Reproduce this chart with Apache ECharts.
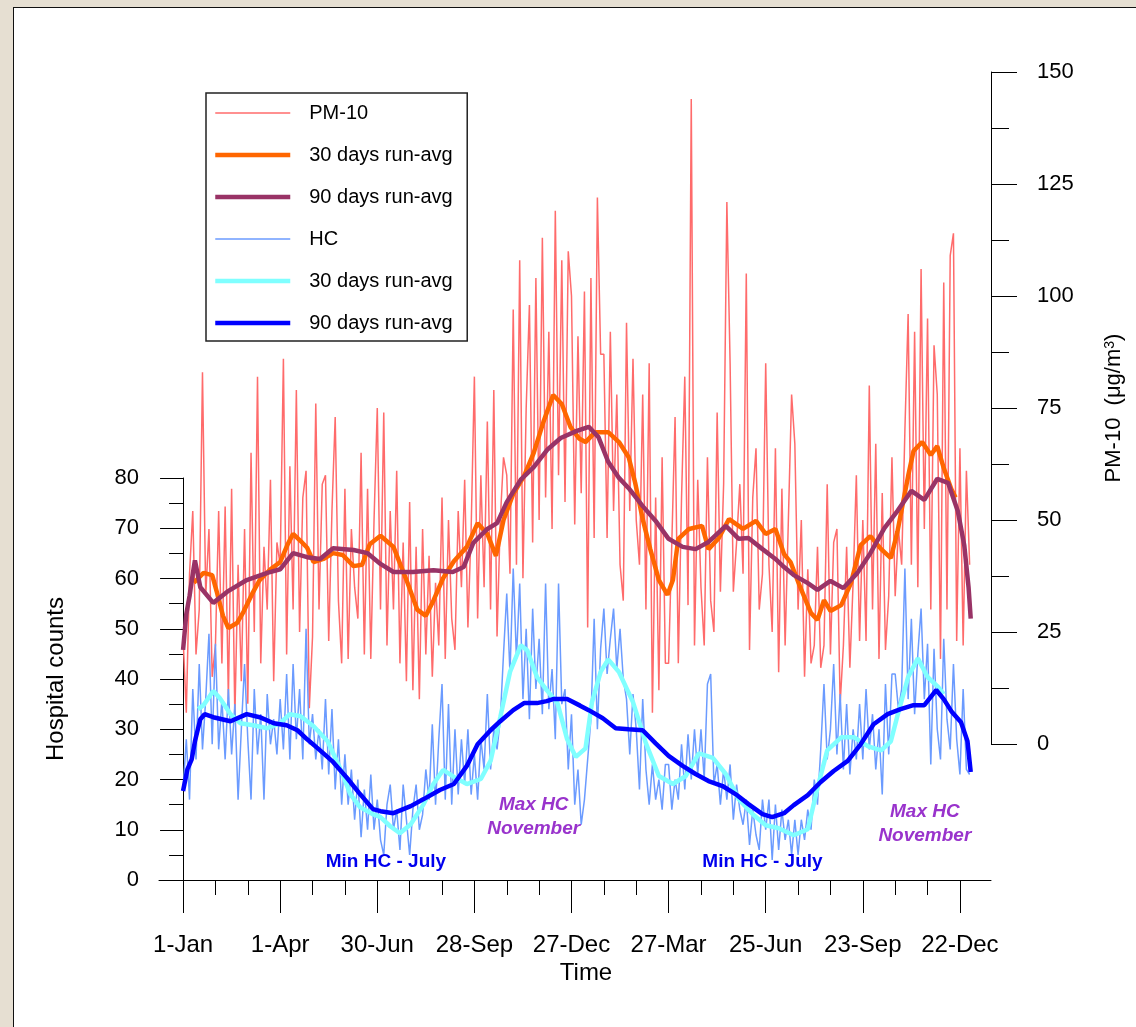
<!DOCTYPE html>
<html>
<head>
<meta charset="utf-8">
<title>PM-10 and hospital counts</title>
<script src="https://cdn.jsdelivr.net/npm/echarts@6/dist/echarts.min.js"></script>
<style>
    html, body { margin: 0; padding: 0; background: #e6dfd2; }
    #panel { position: absolute; left: 13px; top: 7px; right: 0; bottom: 0; background: #fff;
             border-left: 1px solid #111; border-top: 1px solid #111; }
    #chart { position: absolute; left: 0; top: 0; width: 1136px; height: 1027px; }
</style>
</head>
<body>
<div id="panel"></div>
<div id="chart"></div>
<script>
// day 0 = 1-Jan of the first year, raw series read every STEP days
var STEP = 3;
var tickDays = [0, 90, 180, 270, 360, 450, 540, 630, 720];
var tickLabels = ['1-Jan', '1-Apr', '30-Jun', '28-Sep', '27-Dec', '27-Mar', '25-Jun', '23-Sep', '22-Dec'];
var minorDays = [30, 60, 120, 150, 210, 240, 300, 330, 390, 420, 480, 510, 570, 600, 660, 690];

// PM-10 daily (ug/m3), one row = 30 days
var pmRaw = [
    24, 7, 38, 52, 20, 30, 83, 33, 48, 15,
    22, 52, 18, 53, 10, 57, 6, 40, 14, 48,
    9, 65, 25, 82, 18, 44, 30, 59, 14, 45,
    40, 86, 20, 62, 30, 79, 25, 55, 61, 8,
    24, 76, 30, 58, 60, 23, 52, 73, 32, 18,
    57, 19, 48, 35, 28, 65, 20, 57, 19, 50,
    75, 30, 74, 22, 52, 30, 61, 18, 45, 14,
    54, 12, 44, 10, 48, 20, 42, 15, 36, 22,
    55, 19, 50, 28, 21, 52, 35, 59, 26, 48,
    82, 28, 60, 35, 72, 30, 79, 24, 50, 64,
    60, 38, 97, 40, 108, 37, 75, 98, 45, 104,
    50, 113, 55, 92, 48, 119, 60, 108, 54, 110,
    100, 49, 91, 56, 101, 26, 104, 46, 122, 87,
    87, 46, 92, 52, 78, 40, 32, 94, 52, 86,
    50, 40, 78, 30, 85, 7, 55, 12, 64, 18,
    18, 45, 73, 18, 55, 82, 31, 144, 22, 59,
    35, 22, 64, 32, 25, 74, 34, 58, 121, 85,
    34, 45, 58, 38, 105, 21, 55, 66, 30, 38,
    85, 40, 25, 66, 16, 57, 22, 50, 78, 67,
    30, 50, 15, 39, 18, 22, 44, 17, 22, 58,
    20, 45, 48, 9, 22, 44, 17, 36, 60, 23,
    50, 23, 80, 30, 67, 19, 56, 21, 33, 64,
    33, 48, 40, 70, 96, 40, 92, 35, 106, 48,
    95, 30, 89, 78, 19, 103, 30, 109, 114, 23,
    66, 22, 61, 40
];

// running averages: [day, value]
var pm30 = [
    [10, 36], [19, 38.2], [27, 37.7], [31, 34.2], [37, 28.6], [42, 25.9], [50, 27], [56, 29.5],
    [64, 33.5], [71, 36.6], [81, 39], [90, 40.6], [97, 44.6], [102, 46.9], [109, 45.3], [115, 43.8],
    [121, 40.6], [130, 41.3], [139, 42.6], [148, 42.2], [158, 39.7], [166, 40], [173, 44.6], [183, 46.5],
    [195, 44], [208, 36], [217, 30], [225, 28.6], [232, 32], [241, 37], [251, 40.8], [263, 44],
    [273, 49.3], [282, 46.9], [290, 42], [297, 50], [306, 55.8], [316, 59.8], [325, 65], [334, 71.9],
    [343, 77.9], [351, 75.9], [359, 70.8], [367, 68.2], [373, 67.4], [382, 69.6], [394, 69.6], [404, 67.4],
    [413, 64], [419, 58.3], [426, 50.2], [433, 43.5], [441, 36.6], [449, 33.3], [454, 36.6], [459, 45.8],
    [469, 48], [481, 48.7], [487, 43.5], [496, 45.8], [506, 50.2], [519, 48], [531, 49.8], [540, 46.9],
    [549, 48], [557, 42.4], [563, 40.6], [572, 35], [582, 29.2], [588, 27.7], [594, 32.1], [600, 29.7],
    [610, 31], [619, 35.9], [628, 44.4], [637, 46.4], [647, 43.5], [656, 41.5], [662, 47.3], [672, 59.8],
    [677, 65.4], [685, 67.4], [693, 64.5], [699, 66.5], [705, 61.6], [712, 56.9], [716, 55]
];
var pm90 = [
    [0, 21], [3, 29], [6, 33], [9, 38], [11, 41], [16, 35], [28, 31.5], [41, 34],
    [59, 36.6], [78, 38.2], [90, 39], [102, 42.6], [115, 41.7], [127, 41.3], [139, 43.7], [158, 43.3],
    [171, 42.6], [183, 40.2], [195, 38.4], [213, 38.4], [232, 38.8], [250, 38.4], [260, 39.5], [269, 44.9],
    [282, 48], [291, 49.3], [300, 54], [313, 59], [325, 61.8], [338, 65.8], [350, 68.3], [365, 69.9],
    [376, 70.8], [385, 68.5], [394, 63], [404, 59.4], [413, 57.1], [426, 53.1], [438, 49.8], [450, 45.8],
    [463, 44], [475, 43.5], [487, 45.1], [503, 48.7], [515, 45.8], [524, 46], [537, 43.5], [549, 41.3],
    [557, 39.5], [566, 37.7], [579, 35.9], [588, 34.4], [600, 36.4], [612, 34.8], [625, 38.2], [637, 42.6],
    [650, 48.2], [662, 52], [675, 56.5], [687, 54.5], [699, 59.2], [709, 58.3], [718, 52], [724, 44.4],
    [728, 35], [730, 28]
];

// hospital counts daily, one row = 30 days
var hcRaw = [
    18, 28, 16, 38, 24, 43, 26, 36, 49, 27,
    47, 26, 36, 24, 38, 25, 35, 16, 30, 43,
    28, 16, 38, 25, 33, 16, 37, 27, 32, 25,
    36, 26, 41, 24, 43, 28, 38, 24, 50, 27,
    33, 24, 30, 22, 36, 21, 34, 18, 28, 15,
    25, 15, 22, 12, 20, 8.5, 18, 10, 21, 10,
    16, 8, 5, 15, 19, 10, 14, 6, 19, 12,
    5, 14, 19, 10, 13, 22, 16, 31, 15, 28,
    39, 16, 35, 15, 30, 17, 28, 19, 30, 17,
    25, 16, 28, 22, 37, 22, 30, 26, 32, 45,
    57, 41, 62, 44, 59, 36, 50, 32, 54, 38,
    48, 33, 59, 34, 42, 28, 59, 35, 38, 22,
    33, 15, 22, 11, 16, 24, 32, 52, 30, 46,
    54, 41, 48, 54, 42, 50, 40, 36, 25, 37,
    30, 18, 36, 22, 15, 23, 16, 20, 14, 23,
    23, 14, 20, 16, 27, 18, 29, 20, 30, 21,
    30, 20, 39, 41, 19, 23, 15, 22, 16, 23,
    12, 19, 14, 11, 16, 7, 14, 9, 6, 16,
    10, 16, 4, 15, 6, 14, 8, 12, 5, 12,
    5, 12, 8, 14, 10, 20, 15, 26, 39, 24,
    30, 43, 25, 37, 22, 35, 21, 30, 24, 35,
    24, 38, 26, 33, 22, 30, 17, 39, 25, 41,
    41, 34, 38, 62, 36, 52, 33, 45, 54, 36,
    47, 23, 46, 30, 24, 48, 32, 26, 43, 28,
    21, 38, 22, 21
];
var hc30 = [
    [14, 34], [19, 34.8], [28, 37.6], [34, 36.2], [44, 33], [53, 31.2], [65, 30.8], [78, 30.2],
    [90, 31.2], [99, 33], [109, 32.6], [121, 30.6], [134, 27.6], [146, 22], [155, 17.1], [164, 14.5],
    [176, 13.1], [183, 12.5], [192, 10.7], [201, 9.3], [211, 11.1], [223, 15.1], [232, 19.1], [241, 21.9],
    [251, 20.5], [263, 19.1], [276, 20.1], [285, 23.7], [294, 32.4], [303, 41.4], [313, 46.7], [319, 45.7],
    [328, 40.4], [337, 37.8], [347, 35.2], [356, 28], [364, 24.5], [373, 26.2], [379, 35.4], [387, 41.4],
    [394, 43.9], [404, 41.4], [417, 35.4], [429, 27.2], [441, 20.7], [454, 19.1], [466, 20.7], [478, 25.2],
    [491, 24.3], [503, 21.1], [515, 16.1], [528, 13.1], [540, 10.9], [552, 10.3], [566, 8.9], [579, 10.1],
    [588, 18.3], [597, 25.8], [610, 28.4], [622, 28.4], [635, 26.6], [647, 25.8], [656, 27.6], [662, 32.6],
    [672, 40.4], [681, 44.1], [690, 40.4], [699, 38.6], [705, 37]
];
var hc90 = [
    [0, 17.7], [4, 22], [8, 24], [11, 27.6], [16, 32], [20, 33], [28, 32.4], [44, 31.6],
    [59, 33], [71, 32.4], [84, 31.2], [96, 30.8], [106, 29.8], [115, 28], [127, 25.8], [139, 23.5],
    [152, 20.3], [164, 17.1], [176, 14.1], [183, 13.7], [195, 13.3], [211, 14.7], [223, 16.1], [238, 17.9],
    [251, 19.1], [263, 22.7], [273, 27], [285, 29.8], [294, 31.6], [306, 33.8], [316, 35.2], [328, 35.2],
    [337, 35.6], [343, 36], [356, 36], [368, 34.7], [376, 33.8], [389, 32.2], [401, 30.2], [413, 30],
    [426, 29.8], [438, 27.2], [450, 24.7], [463, 22.7], [475, 21.1], [487, 19.7], [500, 18.7], [512, 17.1],
    [524, 15.1], [537, 13.1], [546, 12.5], [557, 13.3], [566, 14.9], [579, 16.9], [591, 19.5], [603, 21.7],
    [616, 23.7], [628, 27], [640, 31], [653, 33], [665, 34], [677, 34.8], [687, 34.8], [698, 37.8],
    [705, 36], [712, 33.6], [721, 31.4], [727, 27.6], [730, 21.5]
];

// notes written inside the hospital-count panel: [day, count]
var minNotes = [[188, 3.6], [537, 3.6]];
var maxNotes = [[325, 12.5], [687.5, 11.1]];

var FONT = '"Liberation Sans", Arial, sans-serif';
var X_MIN = -22.3, X_MAX = 748.8;

function byDay(arr) {
    return arr.map(function (v, i) { return [i * STEP, v]; });
}

function lineSeries(name, data, color, width, xi, yi) {
    return {
        name: name, type: 'line', data: data, xAxisIndex: xi, yAxisIndex: yi,
        symbol: 'none', showSymbol: false, color: color,
        lineStyle: { color: color, width: width }
    };
}

var chart = echarts.init(document.getElementById('chart'));

var hcSeries = lineSeries('90 days run-avg ', hc90, '#0000ff', 4.5, 0, 0);
var noteData = minNotes.map(function (p) {
    return {
        name: 'Min HC - July', coord: p,
        label: { color: '#0000ee', fontWeight: 'bold', fontSize: 19 }
    };
}).concat(maxNotes.map(function (p) {
    return {
        name: 'Max HC\nNovember', coord: p,
        label: { color: '#9933cc', fontWeight: 'bold', fontStyle: 'italic', fontSize: 19, lineHeight: 24 }
    };
}));
hcSeries.markPoint = {
    symbol: 'circle', symbolSize: 1, silent: true,
    itemStyle: { color: 'rgba(0,0,0,0)' },
    label: { show: true, position: 'inside', formatter: '{b}', fontFamily: FONT },
    data: noteData
};

chart.setOption({
    backgroundColor: 'transparent',
    animation: false,
    textStyle: { fontFamily: FONT, color: '#000' },
    legend: {
        orient: 'vertical', left: 206, top: 93,
        padding: [9, 9, 7, 7],
        itemWidth: 75, itemHeight: 14, itemGap: 20,
        borderColor: '#222', borderWidth: 1.5,
        itemStyle: { opacity: 0 },
        textStyle: { fontSize: 20, color: '#000', lineHeight: 22, padding: [0, 0, 0, 14] },
        data: [
            { name: 'PM-10', lineStyle: { width: 1.5 } },
            { name: '30 days run-avg', lineStyle: { width: 4.5 } },
            { name: '90 days run-avg', lineStyle: { width: 4.5 } },
            { name: 'HC', lineStyle: { width: 1.5 } },
            { name: '30 days run-avg ', lineStyle: { width: 4.5 } },
            { name: '90 days run-avg ', lineStyle: { width: 4.5 } }
        ]
    },
    grid: [
        { left: 159, right: 145, top: 478, bottom: 147 },   // hospital counts
        { left: 159, right: 145, top: 72, bottom: 283 }     // PM-10
    ],
    xAxis: [
        {
            gridIndex: 0, type: 'value', min: X_MIN, max: X_MAX,
            name: 'Time', nameLocation: 'middle', nameGap: 81,
            nameTextStyle: { fontSize: 24, color: '#000', padding: [0, 0, 0, 22] },
            axisLine: { lineStyle: { color: '#000', width: 1 } },
            axisTick: { customValues: tickDays, length: 33, lineStyle: { color: '#000' } },
            axisLabel: {
                customValues: tickDays, margin: 53, fontSize: 24, color: '#000',
                formatter: function (v) {
                    var i = tickDays.indexOf(v);
                    return i < 0 ? '' : tickLabels[i];
                }
            },
            splitLine: { show: false }
        },
        {
            // 30-day minor ticks
            gridIndex: 0, type: 'value', min: X_MIN, max: X_MAX, position: 'bottom',
            axisLine: { show: false },
            axisTick: { customValues: minorDays, length: 15, lineStyle: { color: '#000' } },
            axisLabel: { show: false },
            splitLine: { show: false }
        },
        {
            gridIndex: 1, type: 'value', min: X_MIN, max: X_MAX, show: false,
            axisLine: { onZero: false }
        }
    ],
    yAxis: [
        {
            gridIndex: 0, type: 'value', min: 0, max: 80, interval: 10,
            name: 'Hospital counts', nameLocation: 'middle', nameGap: 91, nameRotate: 90,
            nameTextStyle: { fontSize: 24, color: '#000' },
            axisLine: { show: true, onZero: true, lineStyle: { color: '#000' } },
            axisTick: { show: true, length: 23, lineStyle: { color: '#000' } },
            minorTick: { show: true, splitNumber: 2, length: 14, lineStyle: { color: '#000' } },
            axisLabel: { margin: 20, fontSize: 22, color: '#000' },
            splitLine: { show: false }
        },
        {
            gridIndex: 1, type: 'value', position: 'right', min: 0, max: 150, interval: 25,
            name: 'PM-10  (\u03bcg/m{sup|3})', nameLocation: 'middle', nameGap: 112, nameRotate: 90,
            nameTextStyle: {
                fontSize: 22, color: '#000',
                rich: { sup: { fontSize: 14, color: '#000', verticalAlign: 'top', padding: [0, 0, 8, 0] } }
            },
            axisLine: { show: true, onZero: false, lineStyle: { color: '#000' } },
            axisTick: { show: true, length: 26, lineStyle: { color: '#000' } },
            minorTick: { show: true, splitNumber: 2, length: 18, lineStyle: { color: '#000' } },
            axisLabel: { margin: 46, fontSize: 22, color: '#000' },
            splitLine: { show: false }
        }
    ],
    series: [
        lineSeries('PM-10', byDay(pmRaw), '#ff6b6b', 1.5, 2, 1),
        lineSeries('30 days run-avg', pm30, '#ff6600', 4.5, 2, 1),
        lineSeries('90 days run-avg', pm90, '#993366', 4.5, 2, 1),
        lineSeries('HC', byDay(hcRaw), '#6b9bff', 1.5, 0, 0),
        lineSeries('30 days run-avg ', hc30, '#80ffff', 4.5, 0, 0),
        hcSeries
    ]
});
</script>
</body>
</html>
